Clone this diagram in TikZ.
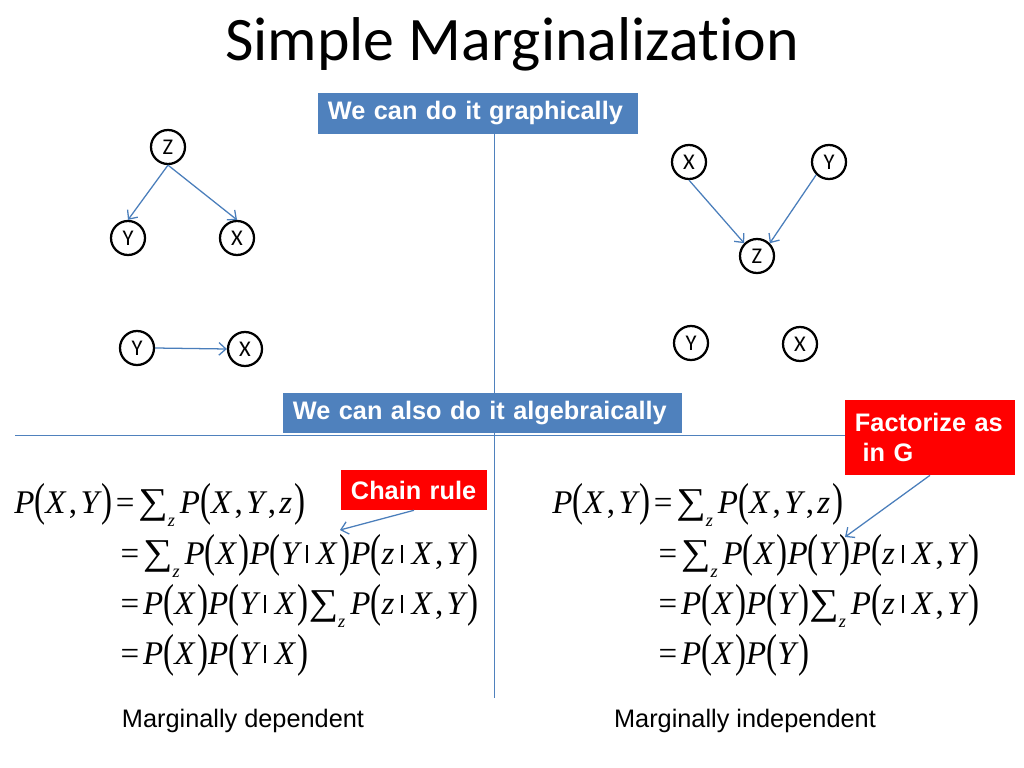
\documentclass[tikz,border=0pt]{standalone}
\usepackage{fontspec}
\usepackage{graphicx}
\usetikzlibrary{arrows.meta}
\setmainfont{Liberation Sans}
\newfontfamily\titlefont[Ligatures={CommonOff,ContextualOff}]{Carlito}
\newfontfamily\eqfont{Liberation Serif}
\definecolor{boxblue}{HTML}{4F81BD}
\definecolor{linkblue}{HTML}{4A7EBB}
\definecolor{tagred}{HTML}{FF0000}
% pieces of the formulas
\newcommand{\lp}{\raisebox{-0.07em}{\scalebox{1}[1.4]{\upshape(}}}
\newcommand{\rp}{\kern0.08em\raisebox{-0.07em}{\scalebox{1}[1.4]{\upshape)}}}
\newcommand{\cm}{\kern0.1em{\upshape,}\kern0.1em}
\newcommand{\gv}{\kern0.2em\rule[0.02em]{0.06em}{0.55em}\kern0.26em}
\newcommand{\sumz}{\raisebox{-0.02em}{\scalebox{1.25}[1.1]{\upshape ∑}}\raisebox{-0.4em}{\fontsize{13}{13}\selectfont z}\kern0.15em}
\newcommand{\eqs}{\kern0.1em{\upshape =}\kern0.12em}

\begin{document}
\begin{tikzpicture}[x=0.025cm,y=-0.025cm,
  var/.style={draw,circle,fill=white,line width=1.6pt,minimum size=0.85cm,inner sep=0pt,
    font=\titlefont\fontsize{16}{16}\selectfont},
  link/.style={draw=linkblue,line width=0.9pt,-{Straight Barb[length=5pt,width=9pt]}},
  divider/.style={draw=boxblue,line width=0.7pt},
  bluebox/.style={fill=boxblue,text=white,inner xsep=0.25cm,inner ysep=0pt,
    font=\bfseries\fontsize{18}{21.6}\selectfont},
  redbox/.style={fill=tagred,text=white,inner xsep=0.25cm,inner ysep=0pt,align=left,
    font=\bfseries\fontsize{18}{21.6}\selectfont},
  eqline/.style={inner sep=0pt,anchor=base west,font=\eqfont\itshape\fontsize{23.5}{28}\selectfont},
  caption/.style={inner sep=0pt,anchor=base,font=\fontsize{18}{21.6}\selectfont}]
  \fill[white] (0,0) rectangle (1024,768);
  \useasboundingbox (0,0) rectangle (1024,768);

  \node[inner sep=0pt,anchor=base,font=\titlefont\fontsize{44}{50}\selectfont] (title) at (512,61) {Simple Marginaliza\kern0pt t\kern0pt ion};

  % dividing lines
  \draw[divider] (494,134) -- (494,698);
  \draw[divider] (15,435) -- (1010,435);

  \node[bluebox,text width=7.5cm,minimum height=1.025cm] (graph) at (478,113.5) {We can do it graphically};
  \node[bluebox,text width=9.475cm,minimum height=1cm] (algebra) at (482.5,413) {We can also do it algebraically};

  % common cause
  \path (168,147) node[var] (lz) {Z} (128,238) node[var] (ly) {Y} (237,238) node[var] (lx) {X}
  (137,348) node[var] (my) {Y} (245,349) node[var] (mx) {X};
  \draw[link] (lz.south) -- (ly.north);
  \draw[link] (lz.south) -- (lx.north);
  \draw[link] (my.east) -- (mx.west);

  % common effect
  \path (689,162) node[var] (rx) {X} (829,162) node[var] (ry) {Y} (757,256) node[var] (rz) {Z}
  (691,343) node[var] (ny) {Y} (800,344) node[var] (nx) {X};
  \draw[link] (rx.south) -- (rz.north west);
  \draw[link] (ry.south west) -- (rz.north east);

  % formulas
  \node[eqline] (l1) at (14,513) {P\lp X\cm Y\rp\eqs\sumz P\lp X\cm Y\cm z\rp};
  \node[eqline] (l2) at (117,564) {\eqs\sumz P\lp X\rp P\lp Y\gv X\rp P\lp z\gv X\cm Y\rp};
  \node[eqline] (l3) at (117,614) {\eqs P\lp X\rp P\lp Y\gv X\rp\sumz P\lp z\gv X\cm Y\rp};
  \node[eqline] (l4) at (117,664) {\eqs P\lp X\rp P\lp Y\gv X\rp};

  \node[eqline] (r1) at (552,513) {P\lp X\cm Y\rp\eqs\sumz P\lp X\cm Y\cm z\rp};
  \node[eqline] (r2) at (655,564) {\eqs\sumz P\lp X\rp P\lp Y\rp P\lp z\gv X\cm Y\rp};
  \node[eqline] (r3) at (655,614) {\eqs P\lp X\rp P\lp Y\rp\sumz P\lp z\gv X\cm Y\rp};
  \node[eqline] (r4) at (655,664) {\eqs P\lp X\rp P\lp Y\rp};

  \node[redbox,text width=3.15cm,minimum height=1cm] (chain) at (414,490) {Chain rule};
  \coordinate (chaintip) at (340,530);
  \draw[link] (chain.south) -- (chaintip);

  \node[redbox,text width=3.75cm,minimum height=1.875cm] (factor) at (930,437.5) {Factorize as\\\hspace{0.3em}in G};
  \coordinate (factortip) at (845,537);
  \draw[link] (factor.south) -- (factortip);

  \node[caption] (depcap) at (243,727) {Marginally dependent};
  \node[caption] (indcap) at (745,727) {Marginally independent};
\end{tikzpicture}
\end{document}
